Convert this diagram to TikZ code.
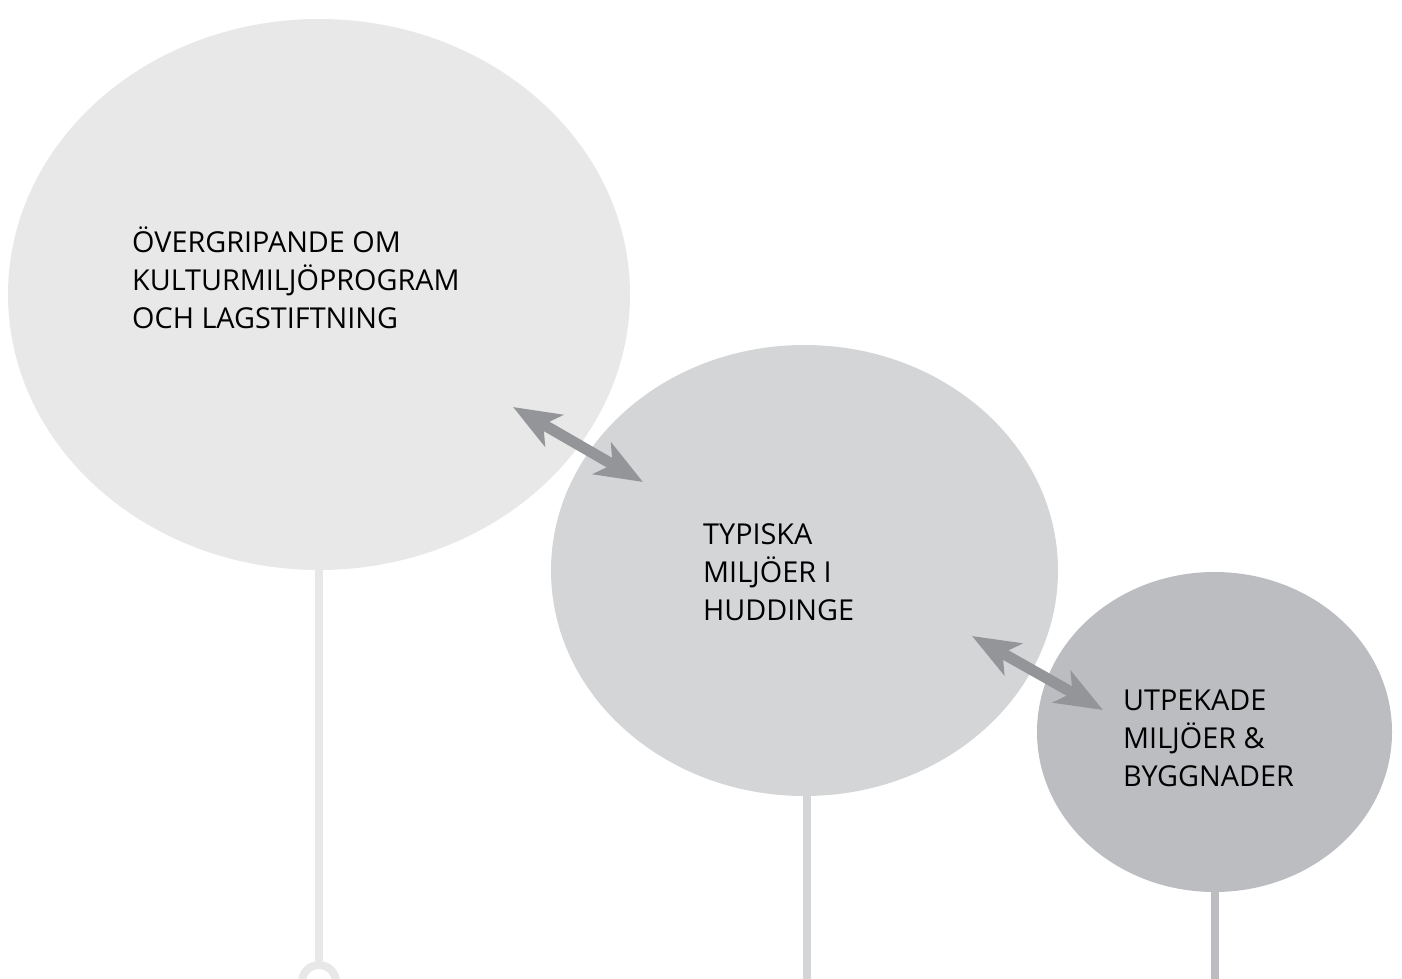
\documentclass[tikz,border=0pt]{standalone}
\usepackage{fontspec}
\setmainfont{Open Sans}
\usetikzlibrary{shapes.geometric,arrows.meta}
\definecolor{cA}{HTML}{E8E8E8}
\definecolor{cB}{HTML}{D4D5D7}
\definecolor{cC}{HTML}{BCBDC0}
\definecolor{cArrow}{HTML}{939598}
\begin{document}
\begin{tikzpicture}[x=1pt,y=-1pt,
  blob/.style={ellipse, inner sep=0pt, draw=none},
  label/.style={anchor=base west, align=left, inner sep=0pt, text=black,
    font=\fontsize{28.8}{37.8}\selectfont},
  stem/.style={line width=8pt},
  link/.style={draw=cArrow, line width=11pt,
    {Stealth[length=47pt,width=36pt,inset=12pt]}-{Stealth[length=47pt,width=36pt,inset=12pt]}}]
\useasboundingbox (0,0) rectangle (1402,979);
% stems
\coordinate (s1b) at (319,961);
\coordinate (s2b) at (807,985);
\coordinate (s3b) at (1215,985);
\node[blob, fill=cA, minimum width=622pt, minimum height=551pt] (c1) at (319,294.5) {};
\node[blob, fill=cB, minimum width=507pt, minimum height=451pt] (c2) at (804.5,570.5) {};
\node[blob, fill=cC, minimum width=355pt, minimum height=320pt] (c3) at (1214.5,732) {};
\draw[stem, draw=cA] (c1.south) ++(0,-2) -- (s1b);
\draw[stem, draw=cA] (319,982) circle[radius=17pt];
\draw[stem, draw=cB] (807,796) -- (s2b);
\draw[stem, draw=cC] (1215,891) -- (s3b);
% arrows
\coordinate (a1s) at (513,407);
\coordinate (a1e) at (643,482);
\coordinate (a2s) at (972,636);
\coordinate (a2e) at (1103,710);
\draw[link] (a1s) -- (a1e);
\draw[link] (a2s) -- (a2e);
% labels (anchor is the baseline of the last line)
\node[label] (t1) at (132,328) {ÖVERGRIPANDE OM\\KULTURMILJÖPROGRAM\\OCH LAGSTIFTNING};
\node[label] (t2) at (703,620) {TYPISKA\\MILJÖER I\\HUDDINGE};
\node[label] (t3) at (1123,786) {UTPEKADE\\MILJÖER \&\\BYGGNADER};
\end{tikzpicture}
\end{document}
